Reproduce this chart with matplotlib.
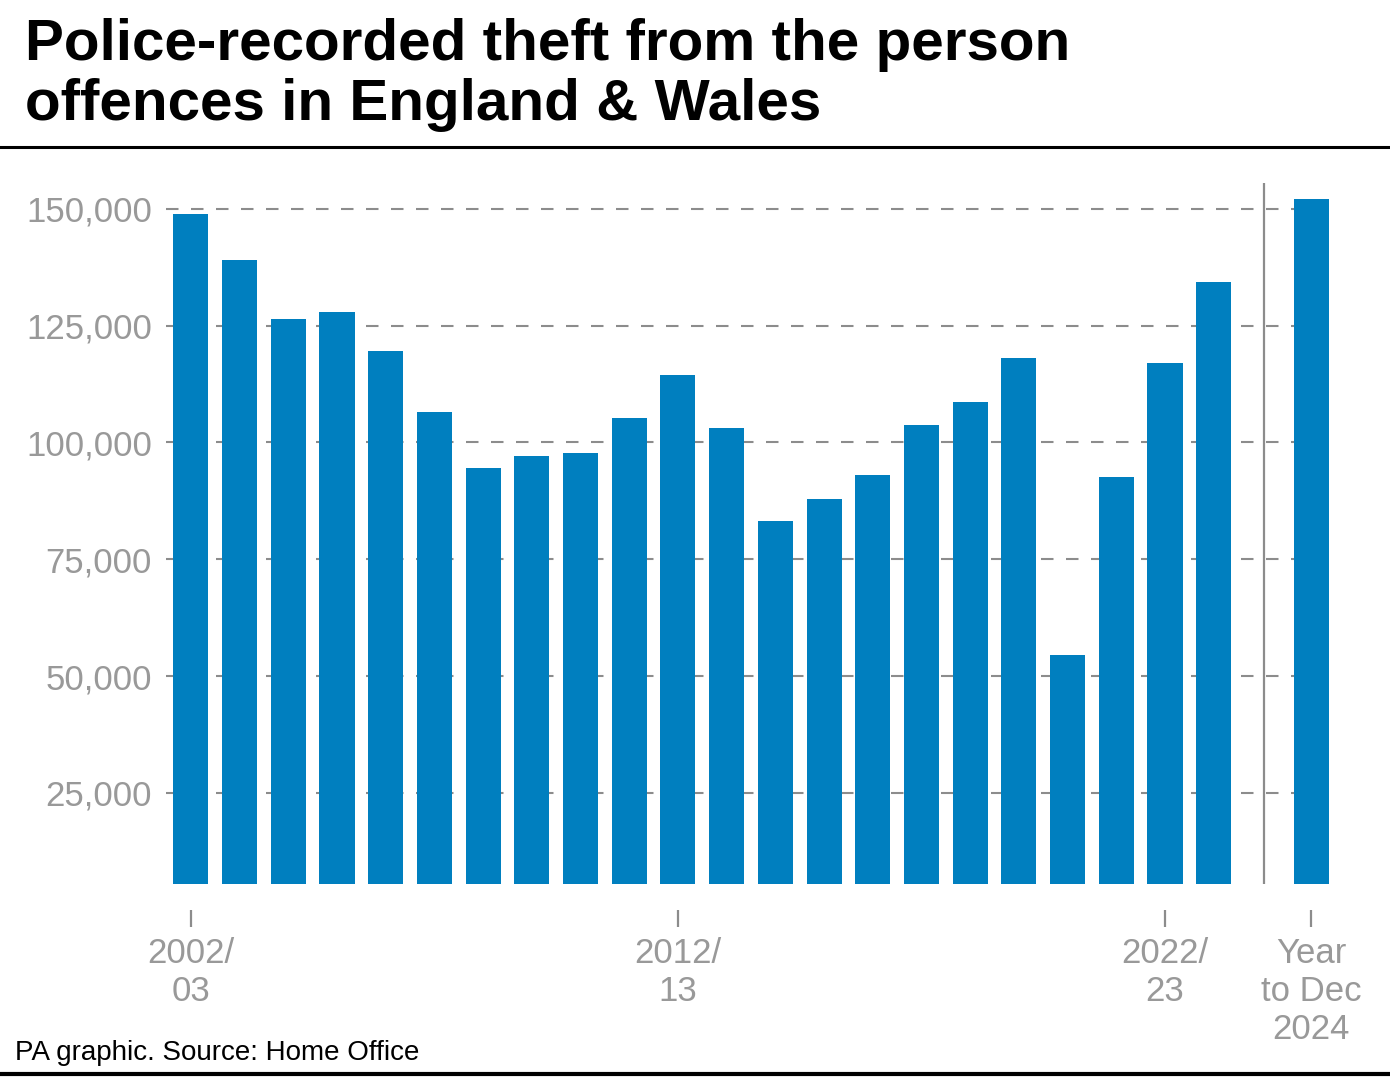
import numpy as np
import matplotlib
matplotlib.use("Agg")
import matplotlib.pyplot as plt

# financial years 2002/03 .. 2023/24, then the latest 12 months
years = ["2002/03", "2003/04", "2004/05", "2005/06", "2006/07", "2007/08",
         "2008/09", "2009/10", "2010/11", "2011/12", "2012/13", "2013/14",
         "2014/15", "2015/16", "2016/17", "2017/18", "2018/19", "2019/20",
         "2020/21", "2021/22", "2022/23", "2023/24"]
offences = [148900, 139100, 126500, 128000, 119500, 106400, 94500, 97100,
            97800, 105300, 114500, 103100, 83200, 87800, 93100, 103700,
            108600, 118000, 54400, 92500, 116900, 134400]
latest_label = "Year to Dec 2024"
latest_value = 152100

yticks = [25000, 50000, 75000, 100000, 125000, 150000]
xtick_labels = {"2002/03": "2002/\n03", "2012/13": "2012/\n13", "2022/23": "2022/\n23"}

blue = "#007fbf"
grey = "#8c8c8c"
plt.rcParams['font.family'] = ['Liberation Sans', 'DejaVu Sans']

fig = plt.figure(figsize=(13.9, 10.8), dpi=100)
ax = fig.add_axes([166/1390, 1 - 884/1080, (1335-166)/1390, (884-183)/1080])

x = np.arange(len(years))
x_latest = len(years) + 1
ax.bar(x, offences, width=0.72, color=blue, zorder=3)
ax.bar([x_latest], [latest_value], width=0.72, color=blue, zorder=3)

ax.set_xlim(-0.51, 23.49)
ax.set_ylim(5500, 155500)

# separator between financial years and latest period
ax.axvline(len(years) + 0.03, color=grey, lw=1.6, zorder=2)

ax.set_yticks(yticks)
ax.set_yticklabels([f"{v:,}" for v in yticks])
ax.yaxis.grid(True, color=grey, lw=1.5, linestyle=(0, (6, 6)), zorder=1)
ax.tick_params(axis='y', length=0, pad=10, labelsize=25, labelcolor="#999999")

tick_pos = [years.index(k) for k in xtick_labels] + [x_latest]
tick_txt = list(xtick_labels.values()) + ["Year\nto Dec\n2024"]
ax.set_xticks(tick_pos)
ax.set_xticklabels(tick_txt, linespacing=1.0)
ax.tick_params(axis='x', length=12, width=1.6, color=grey, pad=7,
               labelsize=25, labelcolor="#999999")
ax.spines['bottom'].set_position(('outward', 19))

for s in ax.spines.values():
    s.set_visible(False)

# two-line title
fig.text(25/1390, 1 - 60/1080, "Police-recorded theft from the person",
         fontsize=42, fontweight='bold', color='black', va='baseline', ha='left')
fig.text(25/1390, 1 - 120/1080, "offences in England & Wales",
         fontsize=42, fontweight='bold', color='black', va='baseline', ha='left')

# header and footer rules
fig.add_artist(plt.Line2D([0, 1], [1 - 147/1080] * 2, color='black', lw=2.2))
fig.add_artist(plt.Line2D([0, 1], [1 - 1074/1080] * 2, color='black', lw=3))

fig.text(15/1390, 1 - 1060/1080, "PA graphic. Source: Home Office", fontsize=20,
         color='black', va='baseline', ha='left')

fig.savefig("out.png", dpi=100)
